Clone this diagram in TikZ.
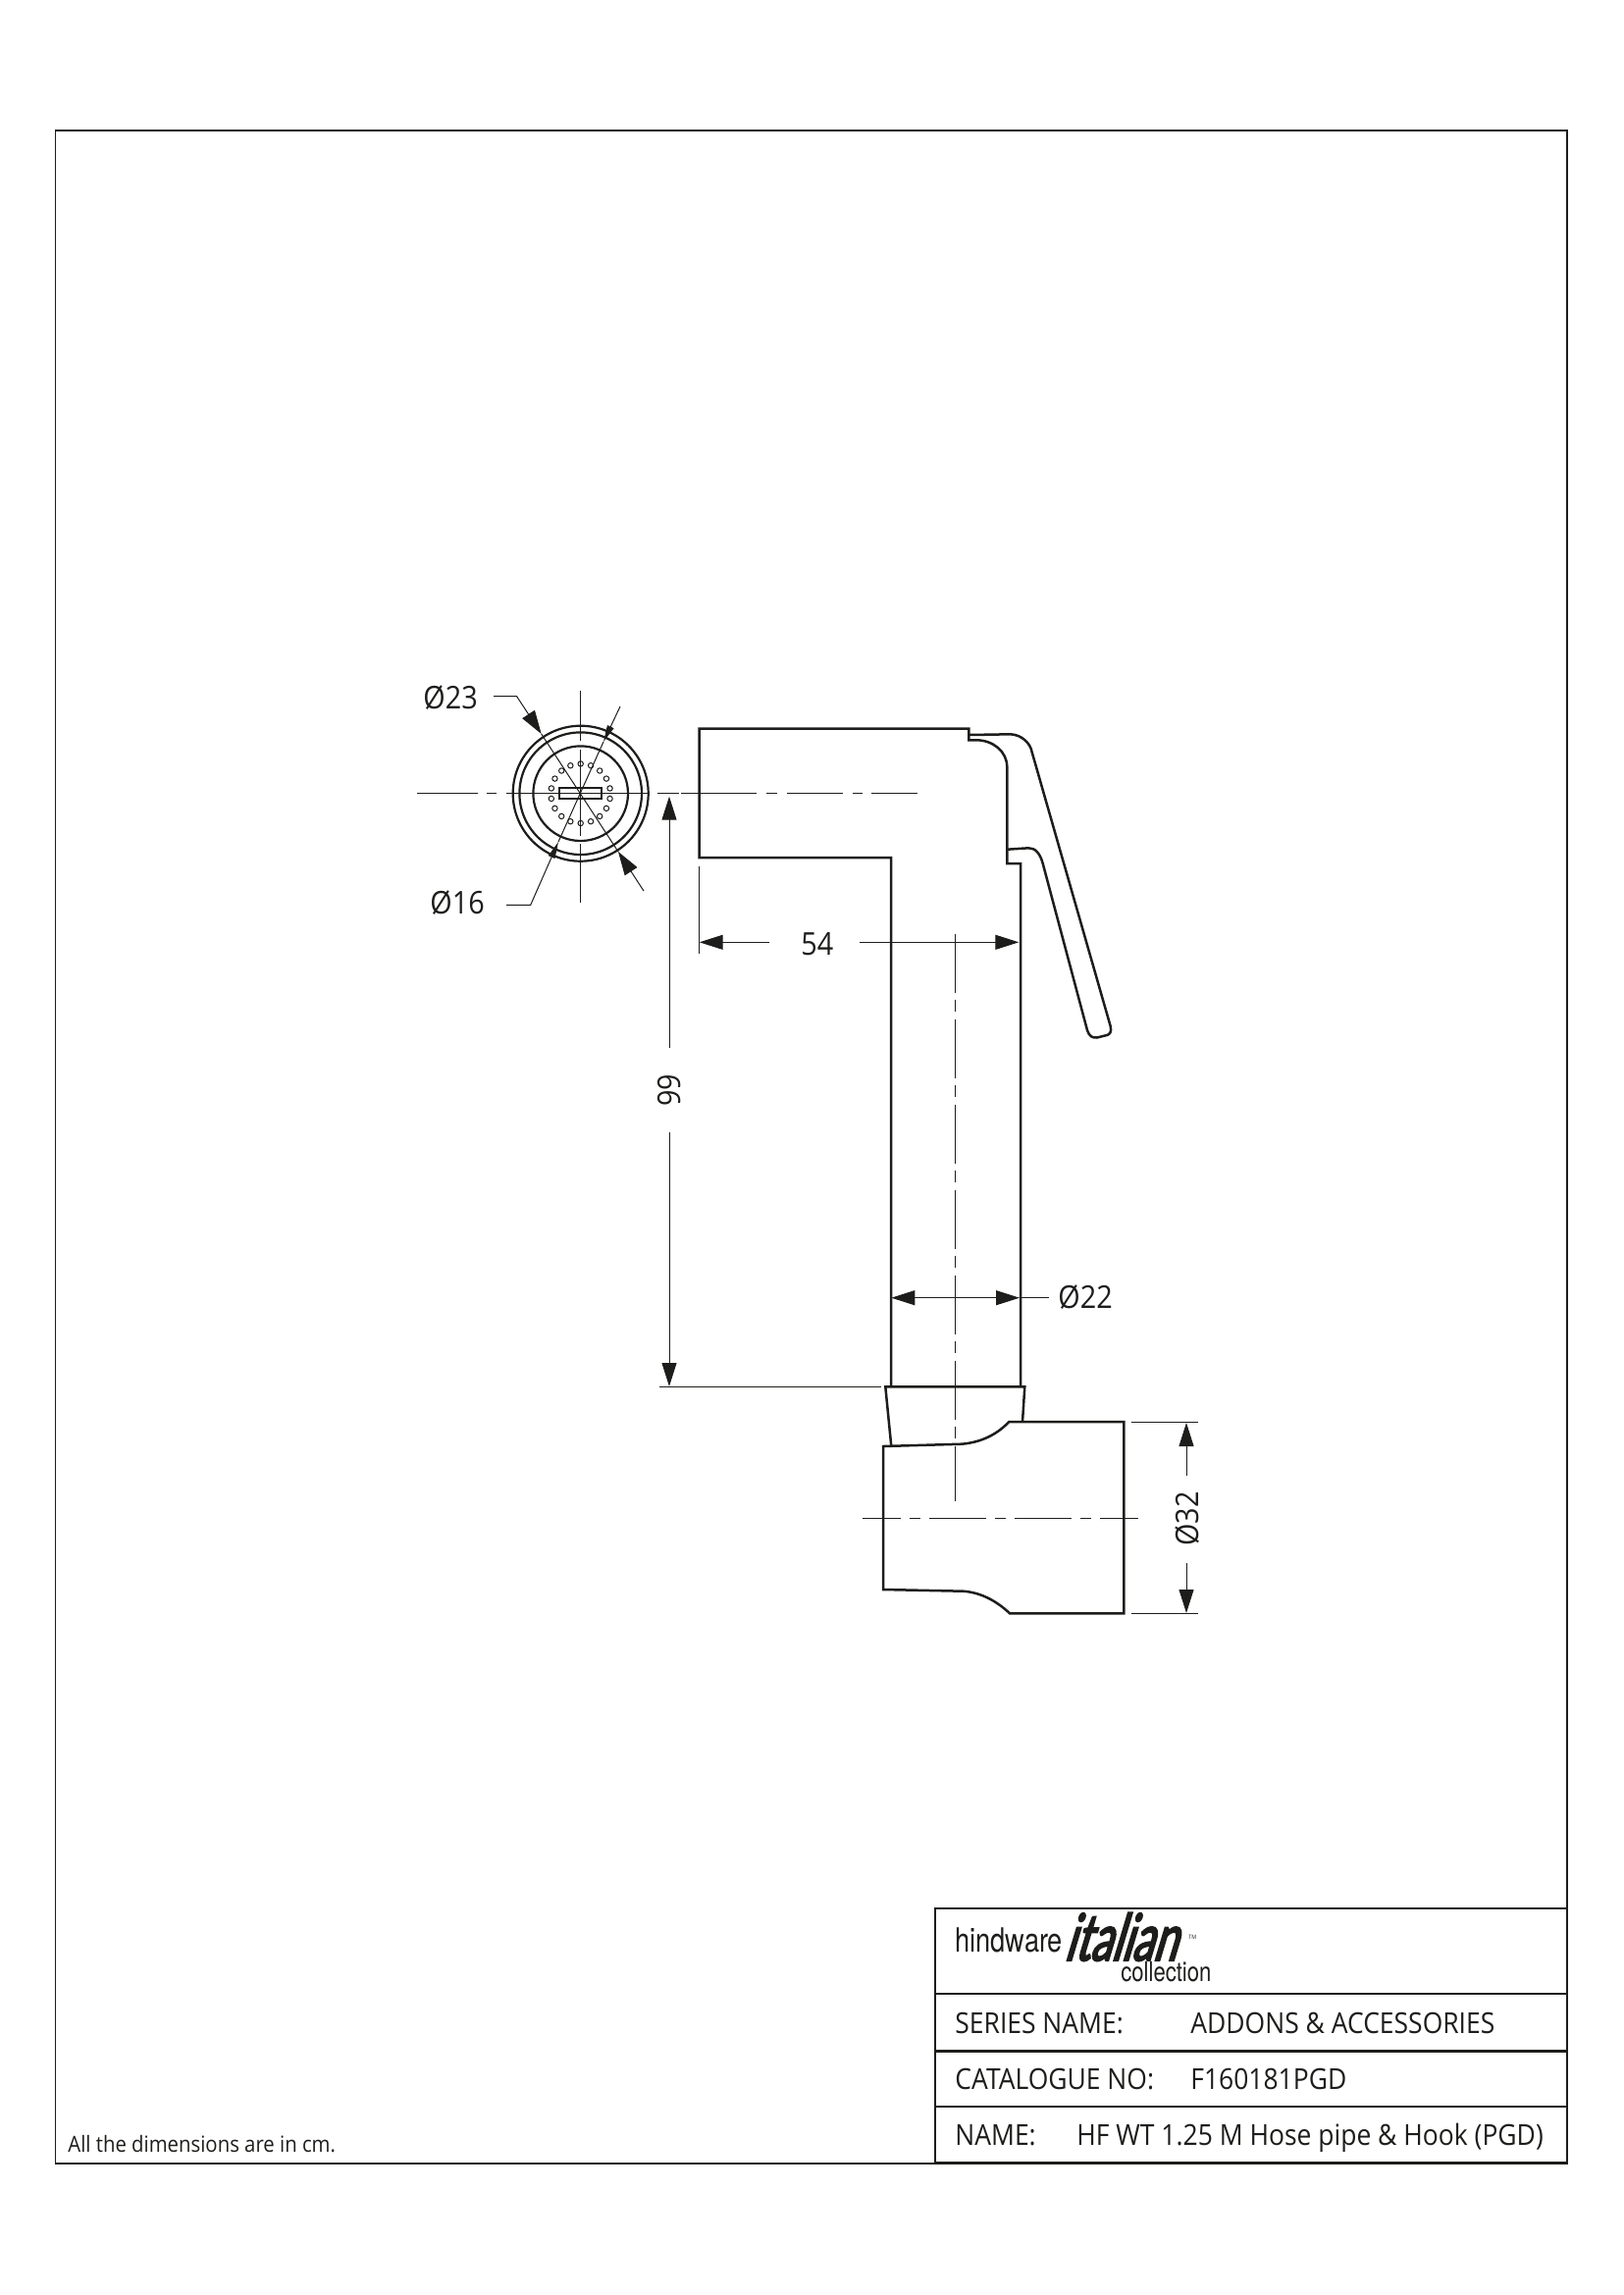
\documentclass[tikz,border=0pt]{standalone}
\usepackage{fontspec}
\setmainfont[FakeStretch=0.9]{Open Sans}
\newfontfamily\logofont[FakeStretch=0.8]{TeX Gyre Heros}
\newfontfamily\italianfont[FakeStretch=0.66,FakeSlant=0.3,FakeBold=3]{Lato}
\usetikzlibrary{arrows.meta}
\usetikzlibrary{positioning,calc}
\definecolor{inkblack}{HTML}{1D1D1B}

\tikzset{
  body/.style={draw=inkblack, line width=1.25pt, line join=miter},
  frameline/.style={draw=inkblack, line width=0.7pt},
  tableline/.style={draw=inkblack, line width=1.25pt},
  thin line/.style={draw=inkblack, line width=0.5pt},
  centre line/.style={draw=inkblack, line width=0.45pt},
  dimarrow/.style={draw=inkblack, line width=0.5pt, -{Triangle[length=12pt,width=7.5pt]}},
  dimboth/.style={draw=inkblack, line width=0.5pt, {Triangle[length=12pt,width=7.5pt]}-{Triangle[length=12pt,width=7.5pt]}},
  smallarrow/.style={draw=inkblack, line width=0.5pt, -{Triangle[length=8.5pt,width=3.5pt]}},
  dimtext/.style={text=inkblack, font=\fontsize{16}{18}\selectfont, inner sep=0pt, anchor=base west},
  dimtextup/.style={text=inkblack, font=\fontsize{16}{18}\selectfont, inner sep=0pt, anchor=base, rotate=90},
  tabletext/.style={text=inkblack, font=\fontsize{14.7}{16}\selectfont, inner sep=0pt, anchor=base west}
}

\begin{document}
\begin{tikzpicture}[x=0.5pt, y=-0.5pt]
  \useasboundingbox (0,0) rectangle (1654,2339);

  % outer frame and note
  \draw[frameline] (56.5,133) rectangle (1597,2205);
  \node (note) [text=inkblack, font=\fontsize{11.3}{13}\selectfont, inner sep=0pt, anchor=base west] at (69,2193) {All the dimensions are in cm.};

  % title block
  \fill[white] (953,1945) rectangle (1597,2204);
  \draw[tableline] (953,1945) rectangle (1597,2204);
  \draw[tableline] (953,2032) -- (1597,2032);
  \draw[tableline] (953,2090.5) -- (1597,2090.5);
  \draw[tableline] (953,2147) -- (1597,2147);

  \node (brand) [text=inkblack, font=\logofont\fontsize{17}{19}\selectfont, inner sep=0pt, anchor=base west] at (973,1989) {hindware};
  \node (italian) [text=inkblack, font=\italianfont\fontsize{33}{36}\selectfont, inner sep=0pt, anchor=base west] at (1084,1998) {italian};
  \node (tm) [text=inkblack, font=\fontsize{3}{4}\selectfont, inner sep=0pt, anchor=base west] at (1211,1976) {TM};
  \node (collection) [text=inkblack, font=\logofont\fontsize{13.8}{15}\selectfont, inner sep=0pt, anchor=base west] at (1142,2019) {collection};

  \node (serieskey) [tabletext] at (973,2072) {SERIES NAME:};
  \node (seriesval) [tabletext] at (1213,2072) {ADDONS \& ACCESSORIES};
  \node (catkey) [tabletext] at (973,2129) {CATALOGUE NO:};
  \node (catval) [tabletext] at (1213,2129) {F160181PGD};
  \node (namekey) [tabletext] at (973,2186) {NAME:};
  \node (nameval) [tabletext] at (1097,2186) {HF WT 1.25 M Hose pipe \& Hook (PGD)};

  % front view of the spray head
  \coordinate (head) at (591.7,808.7);
  \draw[body, line width=1.1pt] (head) circle (69);
  \draw[body, line width=1.1pt] (head) circle (62.3);
  \draw[body, line width=1.1pt] (head) circle (48.3);
  \foreach \a in {10,30,...,350}
    \draw[thin line] ($(head)+(\a:30.3)$) circle (2.7);
  \draw[body, line width=1pt] (570,803.3) rectangle (612.7,814.3);

  \draw[centre line, dash pattern=on 31pt off 4.5pt on 5pt off 5pt on 72.5pt] (425,808.7) -- (660.7,808.7);
  \draw[centre line, dash pattern=on 25.5pt off 4.5pt on 44pt off 4pt on 30pt] (591.7,704) -- (591.7,920);

  % handle and lever
  \draw[body] (908,1413.3) -- (908,874) -- (712.7,874) -- (712.7,742.7) -- (987.3,742.7) -- (987.3,754.3)
    -- (995,754.3) .. controls (1012,754.3) and (1026.3,766) .. (1026.3,781.7)
    -- (1026.3,880) -- (1040,880) -- (1040,1413.3);
  \draw[body] (987.3,749) -- (1030,748.3) .. controls (1041,749) and (1050,757) .. (1051.7,766.7)
    -- (1131.7,1046) .. controls (1133,1052) and (1131,1054) .. (1128,1055)
    -- (1118,1057.5) .. controls (1113,1058) and (1110,1056) .. (1108,1050)
    -- (1062.7,880) .. controls (1060,870) and (1055,864) .. (1048,864.3) -- (1026.3,865.7);
  \draw[centre line, dash pattern=on 11pt off 1pt on 38.5pt off 5pt on 5.5pt off 5pt on 28.5pt off 5pt on 5pt off 4.5pt on 23.5pt] (670,808.7) -- (935,808.7);
  \draw[centre line, dash pattern=on 30pt off 3.5pt on 6pt off 4pt] (973.7,951.7) -- (973.7,1530);

  % collar and hook
  \draw[body] (908.3,1474) -- (902.3,1413.3) -- (1044.3,1413.3) -- (1042,1449);
  \draw[body] (900,1474) -- (980,1471.7) .. controls (1000,1470) and (1016,1462) .. (1028.3,1449)
    -- (1145.3,1449) -- (1145.3,1644.3) -- (1029,1644.3)
    .. controls (1016,1632) and (1000,1623) .. (981.7,1621.7) -- (900,1620) -- cycle;
  \draw[centre line, dash pattern=on 29pt off 4.5pt on 5.5pt off 4.5pt, dash phase=9.7pt] (879,1547.3) -- (1160,1547.3);

  % leaders of the head diameters
  \node (d23) [dimtext] at (431,722) {Ø23};
  \node (d16) [dimtext] at (438,931) {Ø16};
  \coordinate (d23a) at (503,709.5);
  \coordinate (d23b) at (526.5,709.5);
  \coordinate (d23tip) at (551.7,748);
  \coordinate (d23end) at (656,908);
  \coordinate (d23low) at (630,868);
  \coordinate (d16a) at (516,922.3);
  \coordinate (d16b) at (540.7,922.3);
  \coordinate (d16tip) at (569,858);
  \coordinate (d16end) at (632,720);
  \coordinate (d16up) at (615,756);
  \draw[dimarrow] (d23a) -- (d23b) -- (d23tip);
  \draw[dimarrow] (d23end) -- (d23low);
  \draw[thin line] (d23tip) -- (d23low);
  \draw[smallarrow] (d16a) -- (d16b) -- (d16tip);
  \draw[smallarrow] (d16end) -- (d16up);
  \draw[thin line] (d16tip) -- (d16up);

  % dimension 54
  \node (w54) [dimtext] at (816,973.3) {54};
  \coordinate (w54l) at (712.7,960.3);
  \coordinate (w54r) at (1038.3,960.3);
  \coordinate (w54a) at (784.3,960.3);
  \coordinate (w54b) at (876,960.3);
  \draw[thin line] (712.7,882.7) -- (712.7,971.7);
  \draw[dimarrow] (w54a) -- (w54l);
  \draw[dimarrow] (w54b) -- (w54r);

  % dimension 99
  \node (h99) [dimtextup] at (693.3,1111) {99};
  \coordinate (h99t) at (682,811.7);
  \coordinate (h99b) at (682,1413);
  \coordinate (h99c) at (682,1068.3);
  \coordinate (h99d) at (682,1154);
  \draw[dimarrow] (h99c) -- (h99t);
  \draw[dimarrow] (h99d) -- (h99b);
  \draw[thin line] (672,1413.3) -- (898.3,1413.3);

  % dimension 22
  \node (d22) [dimtext] at (1078,1333) {Ø22};
  \coordinate (d22l) at (908.3,1322.7);
  \coordinate (d22r) at (1039,1322.7);
  \coordinate (d22e) at (1069,1322.7);
  \draw[dimboth] (d22l) -- (d22r);
  \draw[thin line] (d22r) -- (d22e);

  % dimension 32
  \node (d32) [dimtextup] at (1221,1548) {Ø32};
  \coordinate (d32t) at (1209,1450);
  \coordinate (d32b) at (1209,1644);
  \coordinate (d32c) at (1209,1504);
  \coordinate (d32d) at (1209,1593.3);
  \draw[thin line] (1152.7,1449) -- (1221,1449);
  \draw[thin line] (1152.7,1644.3) -- (1221,1644.3);
  \draw[dimarrow] (d32c) -- (d32t);
  \draw[dimarrow] (d32d) -- (d32b);
\end{tikzpicture}
\end{document}
